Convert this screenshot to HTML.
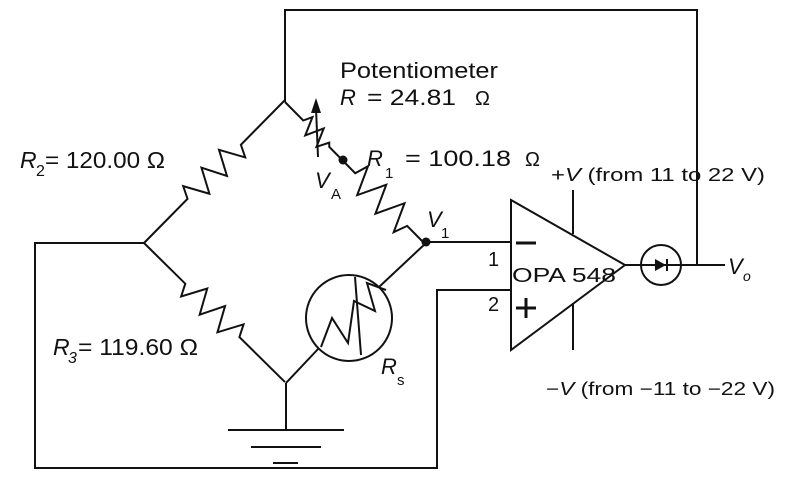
<!DOCTYPE html>
<html><head><meta charset="utf-8"><style>
html,body{margin:0;padding:0;background:#fff}
svg{display:block}
text{font-family:"Liberation Sans",sans-serif;fill:#111}
</style></head><body>
<svg width="785" height="487" viewBox="0 0 785 487" xmlns="http://www.w3.org/2000/svg">
<g stroke="#111" stroke-width="2" fill="none" stroke-linejoin="miter">
<polyline points="285,102 285,10 697,10 697,265"/>
<g transform="translate(144,243) rotate(-45.4)">
<path d="M0,0 H62 L68,-12 L81,12 L94,-12 L106,12 L119,-12 L132,12 L138,0 H201"/>
</g>
<g transform="translate(144,243) rotate(44.6)">
<path d="M0,0 H58 L64,12 L77,-12 L90,12 L102,-12 L115,12 L128,-12 L134,0 H198"/>
</g>
<g transform="translate(285,102) rotate(45.4)">
<path d="M0,0 H26 L30,-9 L38,9 L46,-9 L54,9 L60,-3 L63,0 H100 L104,-14 L117,14 L130,-14 L143,14 L156,-14 L169,14 L174,0 H201"/>
</g>
<line x1="318" y1="157" x2="316" y2="108"/>
<line x1="319" y1="348" x2="286" y2="383"/>
<circle cx="349" cy="318" r="43"/>
<polyline points="321,347 332,318 348,343 354,301 375,311 367,283 386,290"/>
<line x1="379" y1="287" x2="426" y2="243"/>
<line x1="355" y1="277" x2="361" y2="355"/>
<polyline points="144,243 35,243 35,468 437,468 437,290 511,290"/>
<line x1="286" y1="383" x2="286" y2="430"/>
<line x1="228" y1="430" x2="344" y2="430"/>
<line x1="251" y1="447" x2="321" y2="447"/>
<line x1="273" y1="463" x2="298" y2="463"/>
<line x1="426" y1="242" x2="511" y2="242"/>
<polygon points="511,200 511,350 625,265"/>
<line x1="573" y1="190" x2="573" y2="234"/>
<line x1="573" y1="303" x2="573" y2="350"/>
<line x1="625" y1="265" x2="725" y2="265"/>
<circle cx="661" cy="265" r="20"/>
<line x1="516" y1="243" x2="536" y2="243" stroke-width="3"/>
<line x1="516" y1="308" x2="536" y2="308" stroke-width="3"/>
<line x1="526" y1="298" x2="526" y2="318" stroke-width="3"/>
</g>
<polygon points="316,98 311,113 321,113" fill="#111"/>
<polygon points="655,259 655,271 666,265" fill="#111"/>
<line x1="667" y1="259" x2="667" y2="271" stroke="#111" stroke-width="2"/>
<circle cx="343" cy="160" r="4.5" fill="#111"/>
<circle cx="426" cy="242" r="4.5" fill="#111"/>
<text x="340" y="78" font-size="22" textLength="158" lengthAdjust="spacingAndGlyphs">Potentiometer</text>
<text x="340" y="105" font-size="22" font-style="italic">R</text>
<text x="367" y="105" font-size="22" textLength="89" lengthAdjust="spacingAndGlyphs">= 24.81</text>
<text x="475" y="105" font-size="20">Ω</text>
<text x="20" y="168" font-size="23" font-style="italic">R</text>
<text x="36" y="176" font-size="16">2</text>
<text x="45" y="168" font-size="23" textLength="120" lengthAdjust="spacingAndGlyphs">= 120.00 Ω</text>
<text x="367" y="166" font-size="22" font-style="italic">R</text>
<text x="385" y="178" font-size="15">1</text>
<text x="405" y="166" font-size="22" textLength="106" lengthAdjust="spacingAndGlyphs">= 100.18</text>
<text x="525" y="166" font-size="20">Ω</text>
<text x="315" y="188" font-size="22" font-style="italic">V</text>
<text x="331" y="199" font-size="15">A</text>
<text x="427" y="227" font-size="22" font-style="italic">V</text>
<text x="441" y="238" font-size="15">1</text>
<text x="551" y="181" font-size="18" textLength="214" lengthAdjust="spacingAndGlyphs">+<tspan font-style="italic">V</tspan> (from 11 to 22 V)</text>
<text x="488" y="266" font-size="20">1</text>
<text x="488" y="311" font-size="20">2</text>
<text x="512" y="282" font-size="20" textLength="104" lengthAdjust="spacingAndGlyphs">OPA 548</text>
<text x="728" y="274" font-size="22" font-style="italic">V</text>
<text x="743" y="281" font-size="14" font-style="italic">o</text>
<text x="53" y="355" font-size="23" font-style="italic">R</text>
<text x="68" y="363" font-size="16" font-style="italic">3</text>
<text x="78" y="355" font-size="23" textLength="120" lengthAdjust="spacingAndGlyphs">= 119.60 Ω</text>
<text x="381" y="374" font-size="22" font-style="italic">R</text>
<text x="397" y="385" font-size="15">s</text>
<text x="546" y="395" font-size="18" textLength="229" lengthAdjust="spacingAndGlyphs">−<tspan font-style="italic">V</tspan> (from −11 to −22 V)</text>
</svg>
</body></html>
